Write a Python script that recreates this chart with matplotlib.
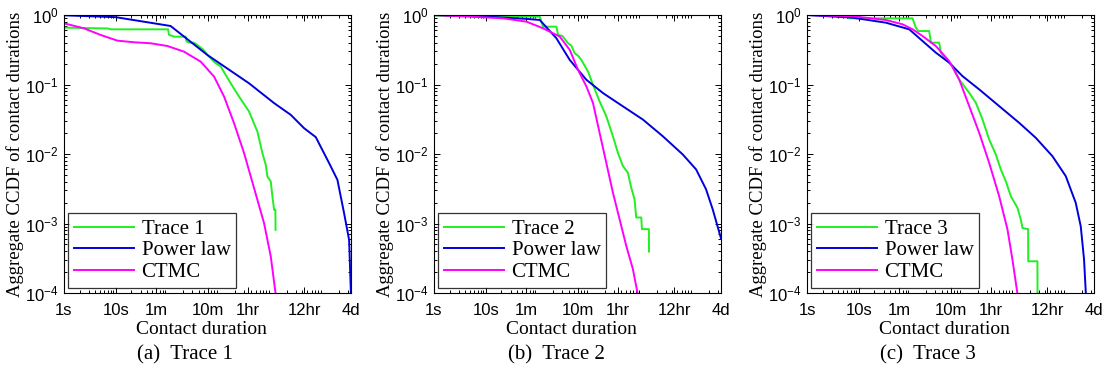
import matplotlib
matplotlib.use("Agg")
import matplotlib.pyplot as plt
import matplotlib.ticker as mticker
import numpy as np

plt.rcParams['font.family'] = ['Liberation Sans', 'DejaVu Sans']
plt.rcParams['mathtext.default'] = 'regular'

# x ticks (seconds)
tick_pos = [1, 10, 60, 600, 3600, 43200, 345600]
tick_lbl = ['1s', '10s', '1m', '10m', '1hr', '12hr', '4d']

# Trace 1
t1_x = [1, 7, 8, 102, 106, 133, 223, 230, 259, 320, 375, 480, 585, 800, 1058, 1649, 2390,
        3726, 5400, 6740, 7820, 8420, 9770, 10520, 11330, 12000, 12100]
t1_y = [0.658, 0.64, 0.622, 0.622, 0.52, 0.488, 0.488, 0.42, 0.40, 0.40, 0.37, 0.32, 0.266,
        0.21, 0.181, 0.104, 0.067, 0.0408, 0.021, 0.0103, 0.00699, 0.00475, 0.00403, 0.00245,
        0.00158, 0.00158, 0.00081]
pl1_x = [1, 10, 114, 585, 3726, 11330, 23770, 43000, 72200, 130600, 189000,
         254000, 317800, 345600]
pl1_y = [0.99, 0.93, 0.695, 0.266, 0.104, 0.054, 0.0366, 0.0235, 0.0175, 0.0074,
         0.00425, 0.00141, 5.8e-4, 9e-5]
ct1_x = [1, 2.43, 5.1, 10.7, 22.5, 47, 99, 207, 435, 787, 1228, 1914, 2986, 4656, 7260, 9770,
         12300]
ct1_y = [0.759, 0.643, 0.516, 0.428, 0.405, 0.392, 0.358, 0.297, 0.213, 0.13, 0.067, 0.0277,
         0.0103, 0.00323, 0.00101, 3.37e-4, 9e-5]

# Trace 2
t2_x = [1, 110, 127, 230, 248, 300, 386, 450, 519, 600, 697, 937, 1170, 1571, 2113, 2838,
        3540, 4425, 5520, 6400, 7420, 7980, 10000, 10300, 14000, 14100]
t2_y = [0.98, 0.946, 0.68, 0.68, 0.517, 0.50, 0.393, 0.36, 0.282, 0.26, 0.226, 0.154, 0.099,
        0.0572, 0.0349, 0.018, 0.0104, 0.0067, 0.00537, 0.00327, 0.00223, 0.00122, 0.00122,
        0.00083, 0.00083, 0.000395]
pl2_x = [1, 10, 60, 110, 230, 416, 871, 1824, 4425, 10740, 26060, 63240, 114300, 178000,
         239000, 345600]
pl2_y = [1.0, 0.95, 0.88, 0.848, 0.463, 0.226, 0.117, 0.0753, 0.0485, 0.0313, 0.018, 0.00984,
         0.006, 0.0031, 0.0016, 6.1e-4]
ct2_x = [1, 4.9, 21.6, 60.9, 127, 267, 416, 601, 871, 1170, 1571, 2113, 2838, 3818, 5130,
         6890, 8700]
ct2_y = [1.0, 0.946, 0.896, 0.802, 0.644, 0.489, 0.315, 0.163, 0.094, 0.0542, 0.0201, 0.00747,
         0.00277, 0.00115, 4.77e-4, 2.21e-4, 9e-5]

# Trace 3
t3_x = [1, 6, 6.5, 109, 126, 140, 228, 246, 356, 383, 479, 643, 865, 1349, 1813, 2438, 3276,
        4404, 5500, 6870, 8580, 11530, 13370, 14400, 18500, 18600, 28000, 28100]
t3_y = [1.0, 0.96, 0.895, 0.895, 0.657, 0.588, 0.588, 0.4, 0.4, 0.287, 0.23, 0.184, 0.118,
        0.076, 0.0546, 0.0314, 0.0162, 0.00984, 0.00598, 0.00406, 0.00247, 0.00168, 0.00114,
        8.6e-4, 8.3e-4, 2.86e-4, 2.86e-4, 9e-5]
pl3_x = [1, 7.6, 33.4, 94, 170, 307, 555, 1002, 2104, 5110, 12420, 26000, 54500, 98600,
         153600, 191900, 222400, 242000]
pl3_y = [1.0, 0.915, 0.775, 0.622, 0.422, 0.287, 0.206, 0.132, 0.085, 0.0489, 0.0281, 0.0171,
         0.0093, 0.0048, 0.00198, 9.1e-4, 3.0e-4, 9e-5]
ct3_x = [1, 7.6, 33.4, 70, 109, 170, 307, 555, 865, 1349, 2104, 3276, 5110, 7400, 9230, 11700]
ct3_y = [1.0, 0.96, 0.847, 0.734, 0.622, 0.498, 0.357, 0.217, 0.118, 0.0489, 0.0202, 0.00746,
         0.00247, 8.2e-4, 3.0e-4, 9e-5]

panels = [
    ('Trace 1', '(a)  Trace 1', (t1_x, t1_y), (pl1_x, pl1_y), (ct1_x, ct1_y)),
    ('Trace 2', '(b)  Trace 2', (t2_x, t2_y), (pl2_x, pl2_y), (ct2_x, ct2_y)),
    ('Trace 3', '(c)  Trace 3', (t3_x, t3_y), (pl3_x, pl3_y), (ct3_x, ct3_y)),
]

W, H = 1106, 371
fig = plt.figure(figsize=(W / 100, H / 100), dpi=100)
fig.patch.set_facecolor('white')

lefts = [64, 434, 807]
caps = [185, 556, 928]
serif = 'Liberation Serif'

for i, (name, caption, tr, pl, ct) in enumerate(panels):
    ax = fig.add_axes([lefts[i] / W, 1 - 293 / H, 287 / W, 278 / H])
    ax.plot(*tr, color='#22ee22', lw=1.4, label=name)
    ax.plot(*pl, color='#0000dd', lw=1.4, label='Power law')
    ax.plot(*ct, color='#ff00ff', lw=1.4, label='CTMC')
    ax.set_xscale('log')
    ax.set_yscale('log')
    ax.set_xlim(1, 345600)
    ax.set_ylim(1e-4, 1)
    ax.set_xticks(tick_pos)
    ax.set_xticklabels(tick_lbl)
    ax.xaxis.set_minor_locator(mticker.LogLocator(base=10, subs=np.arange(2, 10), numticks=20))
    ax.xaxis.set_minor_formatter(mticker.NullFormatter())
    ax.set_yticks([1e-4, 1e-3, 1e-2, 1e-1, 1])
    ax.yaxis.set_minor_locator(mticker.LogLocator(base=10, subs=np.arange(2, 10), numticks=20))
    ax.yaxis.set_minor_formatter(mticker.NullFormatter())
    ax.tick_params(which='both', direction='in', top=True, right=True, labelsize=12, width=0.7)
    ax.tick_params(which='major', length=4)
    ax.tick_params(which='minor', length=2)
    ax.tick_params(axis='x', pad=7)
    ax.tick_params(axis='y', pad=4)
    for s in ax.spines.values():
        s.set_linewidth(0.8)

    ax.set_ylabel('Aggregate CCDF of contact durations', family=serif, fontsize=13.5)
    ax.yaxis.set_label_coords(-0.14, 0.5)
    ax.set_xlabel('Contact duration', family=serif, fontsize=14)
    ax.xaxis.set_label_coords(0.48, -0.1)

    leg = ax.legend(loc='lower left', bbox_to_anchor=(0.014, 0.018), borderaxespad=0,
                    prop={'family': serif, 'size': 15}, fancybox=False, frameon=True,
                    edgecolor='black', handlelength=2.9, handletextpad=0.35,
                    labelspacing=0.1, borderpad=0.28)
    leg.get_frame().set_linewidth(0.9)

    fig.text(caps[i] / W, 1 - 355 / H, caption, family=serif, fontsize=15,
             ha='center', va='center')

fig.savefig('out.png', dpi=100, facecolor='white')
